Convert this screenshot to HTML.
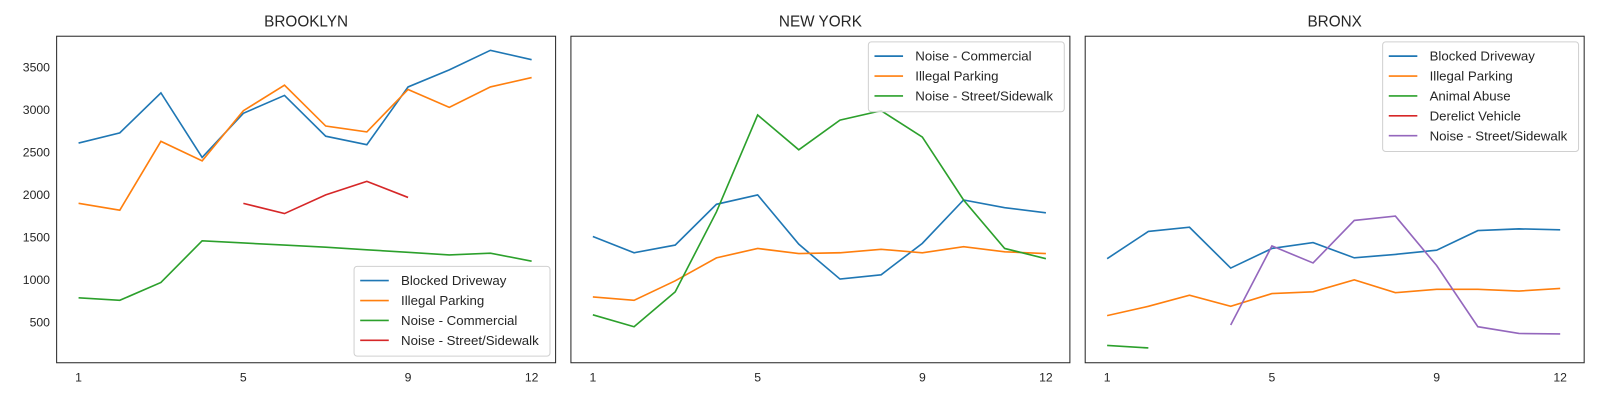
<!DOCTYPE html>
<html><head><meta charset="utf-8"><style>
html,body{margin:0;padding:0;background:#fff;overflow:hidden;width:1600px;height:400px;}
svg{font-family:"Liberation Sans",sans-serif;display:block;}
</style></head><body>
<svg id="c" width="1600" height="400"><g id="root" transform="scale(1.0204)"></g></svg>
<script>
const months=[1,2,3,4,5,6,7,8,9,10,11,12];
const yTicks=[500,1000,1500,2000,2500,3000,3500];
const xTicks=[1,5,9,12];
const titles=["BROOKLYN","NEW YORK","BRONX"];
const N=null;
const bkNames=["Blocked Driveway","Illegal Parking","Noise - Commercial","Noise - Street/Sidewalk"];
const bkBlocked=[2610,2730,3200,2440,2960,3170,2690,2590,3270,3470,3700,3590];
const bkParking=[1900,1820,2630,2400,2990,3290,2810,2740,3240,3030,3270,3380];
const bkCommercial=[790,760,970,1460,1435,1410,1385,1355,1325,1295,1315,1220];
const bkStreet=[N,N,N,N,1900,1780,2000,2160,1970,N,N,N];
const nyNames=["Noise - Commercial","Illegal Parking","Noise - Street/Sidewalk"];
const nyCommercial=[1510,1320,1410,1890,2000,1420,1010,1060,1430,1940,1850,1790];
const nyParking=[800,760,990,1260,1370,1310,1320,1360,1320,1390,1330,1310];
const nyStreet=[590,450,860,1800,2940,2530,2880,2990,2680,1940,1370,1250];
const bxNames=["Blocked Driveway","Illegal Parking","Animal Abuse","Derelict Vehicle","Noise - Street/Sidewalk"];
const bxBlocked=[1250,1570,1620,1140,1370,1440,1260,1300,1350,1580,1600,1590];
const bxParking=[580,690,820,690,840,860,1000,850,890,890,870,900];
const bxAnimal=[230,200,N,N,N,N,N,N,N,N,N,N];
const bxDerelict=[N,N,N,N,N,N,N,N,N,N,N,N];
const bxStreet=[N,N,N,470,1400,1200,1700,1750,1170,450,370,365];

const panels=[
 {left:55,names:bkNames,series:[bkBlocked,bkParking,bkCommercial,bkStreet],leg:"br",cols:["#1f77b4","#ff7f0e","#2ca02c","#d62728"]},
 {left:559,names:nyNames,series:[nyCommercial,nyParking,nyStreet],leg:"tr",cols:["#1f77b4","#ff7f0e","#2ca02c"]},
 {left:1063,names:bxNames,series:[bxBlocked,bxParking,bxAnimal,bxDerelict,bxStreet],leg:"tr",cols:["#1f77b4","#ff7f0e","#2ca02c","#d62728","#9467bd"]}
];
const root=document.getElementById('root');
const NS="http://www.w3.org/2000/svg";
function mk(t,a,p){const e=document.createElementNS(NS,t);for(const k in a)e.setAttribute(k,a[k]);(p||root).appendChild(e);return e;}
const axTop=35,axBot=355,W=490;
const yScale=v=>316-(v-500)*250/3000;
panels.forEach((p,pi)=>{
 const g=mk('g',{});
 
 
 const xs=m=>p.left+22+(m-1)*(444/11);
 const t=mk('text',{x:p.left+W/2,y:26,'text-anchor':'middle','font-size':15,fill:'#262626'},g);t.textContent=titles[pi];
 
 
 xTicks.forEach(m=>{const l=mk('text',{x:xs(m),y:374,'text-anchor':'middle','font-size':12,fill:'#262626'},g);l.textContent=m;
  
  });
 if(pi===0)yTicks.forEach(v=>{const l=mk('text',{x:p.left-6,y:yScale(v)+4,'text-anchor':'end','font-size':12,fill:'#262626'},g);l.textContent=v;
  
  });
 p.series.forEach((s,si)=>{
  let d="",pen=false;
  s.forEach((v,i)=>{if(v===null){pen=false;return;}d+=(pen?"L":"M")+xs(months[i]).toFixed(1)+","+yScale(v).toFixed(1);pen=true;});
  if(d){const pa=mk('path',{d:d,fill:'none',stroke:p.cols[si],'stroke-width':1.6},g);
   
   }
 });
 const fr=mk('rect',{x:p.left+0.5,y:axTop+0.5,width:W-1,height:axBot-axTop,fill:'none',stroke:'#262626','stroke-width':1},g);
 
 
 const lw=p.names.some(n=>n.length>18)?192:176, lh=p.names.length*19.5+10;
 const lx=p.left+W-6-lw, ly=p.leg==="tr"?axTop+6:axBot-6-lh;
 const lg=mk('g',{},g);
 
 
 mk('rect',{x:lx,y:ly,width:lw,height:lh,rx:3,fill:'#fff','fill-opacity':0.8,stroke:'#d0d0d0'},lg);
 p.names.forEach((n,i)=>{
  const yy=ly+14+i*19.5;
  mk('line',{x1:lx+6,x2:lx+34,y1:yy,y2:yy,stroke:p.cols[i],'stroke-width':1.6},lg);
  const tt=mk('text',{x:lx+46,y:yy+4.5,'font-size':13,fill:'#262626'},lg);tt.textContent=n;
  
  
 });
});
</script>
</body></html>
